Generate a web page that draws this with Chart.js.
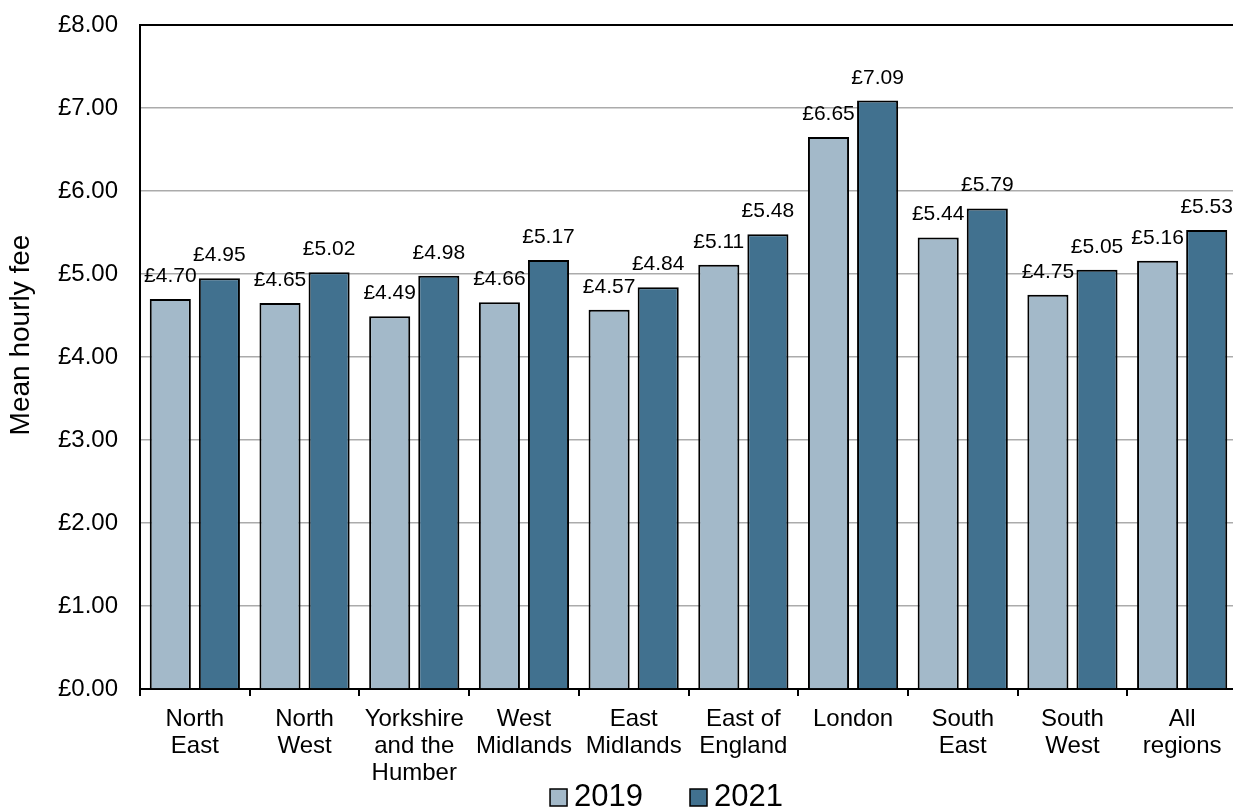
<!DOCTYPE html>
<html>
<head>
<meta charset="utf-8">
<script src="https://cdn.jsdelivr.net/npm/chart.js@4/dist/chart.umd.min.js"></script>
<style>
  html, body { margin: 0; padding: 0; background: #ffffff; overflow: hidden; }
  #wrap { position: relative; width: 1237px; height: 807px; }
</style>
</head>
<body>
<div id="wrap"><canvas id="c"></canvas></div>
<script>
const categories = [
  ['North', 'East'],
  ['North', 'West'],
  ['Yorkshire', 'and the', 'Humber'],
  ['West', 'Midlands'],
  ['East', 'Midlands'],
  ['East of', 'England'],
  ['London'],
  ['South', 'East'],
  ['South', 'West'],
  ['All', 'regions']
];
const seriesNames = ['2019', '2021'];
const values2019 = [4.70, 4.65, 4.49, 4.66, 4.57, 5.11, 6.65, 5.44, 4.75, 5.16];
const values2021 = [4.95, 5.02, 4.98, 5.17, 4.84, 5.48, 7.09, 5.79, 5.05, 5.53];
const yTicks = [0, 1, 2, 3, 4, 5, 6, 7, 8];
const yTitle = 'Mean hourly fee';

const FONT = '"Liberation Sans", Arial, Helvetica, sans-serif';
const COL19 = '#A3B9C9';
const COL21 = '#41718F';

const fmt = v => '£' + v.toFixed(2);

const labelPlugin = {
  id: 'barLabels',
  afterDatasetsDraw(chart) {
    const ctx = chart.ctx;
    ctx.save();
    ctx.font = '21px ' + FONT;
    ctx.fillStyle = '#000';
    ctx.textAlign = 'center';
    ctx.textBaseline = 'alphabetic';
    chart.data.datasets.forEach((ds, di) => {
      const meta = chart.getDatasetMeta(di);
      meta.data.forEach((bar, i) => {
        ctx.fillText(fmt(ds.data[i]), bar.x, bar.y - 17);
      });
    });
    ctx.restore();
  }
};

const borderPlugin = {
  id: 'areaBorder',
  afterDraw(chart) {
    const a = chart.chartArea;
    const ctx = chart.ctx;
    ctx.save();
    ctx.strokeStyle = '#000';
    ctx.lineWidth = 2;
    ctx.beginPath();
    ctx.moveTo(a.left, a.bottom);
    ctx.lineTo(a.left, a.top);
    ctx.lineTo(a.right, a.top);
    ctx.lineTo(a.right, a.bottom);
    ctx.stroke();
    ctx.restore();
  }
};

const yTitlePlugin = {
  id: 'yTitle',
  afterDraw(chart) {
    const a = chart.chartArea;
    const ctx = chart.ctx;
    ctx.save();
    ctx.font = '28px ' + FONT;
    ctx.fillStyle = '#000';
    ctx.textAlign = 'center';
    ctx.textBaseline = 'alphabetic';
    ctx.translate(a.left - 111, (a.top + a.bottom) / 2 - 22);
    ctx.rotate(-Math.PI / 2);
    ctx.fillText(yTitle, 0, 0);
    ctx.restore();
  }
};

const legendPlugin = {
  id: 'customLegend',
  afterDraw(chart) {
    const ctx = chart.ctx;
    const a = chart.chartArea;
    ctx.save();
    ctx.font = '31px ' + FONT;
    ctx.textBaseline = 'alphabetic';
    ctx.textAlign = 'left';
    const box = 17, gapBox = 7, gapItem = 47;
    const items = chart.data.datasets.map(ds => ({ text: ds.label, color: ds.backgroundColor }));
    let total = 0;
    items.forEach((it, i) => {
      it.w = ctx.measureText(it.text).width;
      total += box + gapBox + it.w + (i ? gapItem : 0);
    });
    const cx = (a.left + a.right) / 2 - 22;
    let x = cx - total / 2;
    const baseY = chart.height - 1;
    items.forEach(it => {
      ctx.fillStyle = it.color;
      ctx.fillRect(x, baseY - box, box, box);
      ctx.strokeStyle = '#000';
      ctx.lineWidth = 1.5;
      ctx.strokeRect(x, baseY - box, box, box);
      ctx.fillStyle = '#000';
      ctx.fillText(it.text, x + box + gapBox, baseY);
      x += box + gapBox + it.w + gapItem;
    });
    ctx.restore();
  }
};

new Chart(document.getElementById('c'), {
  type: 'bar',
  data: {
    labels: categories,
    datasets: [
      { label: seriesNames[0], data: values2019, backgroundColor: COL19, borderColor: '#000', borderWidth: 2, borderSkipped: 'bottom' },
      { label: seriesNames[1], data: values2021, backgroundColor: COL21, borderColor: '#000', borderWidth: 2, borderSkipped: 'bottom' }
    ]
  },
  options: {
    responsive: true,
    maintainAspectRatio: false,
    animation: false,
    layout: { padding: { top: 25, left: 0, right: 0, bottom: 0 } },
    datasets: { bar: { categoryPercentage: 0.895, barPercentage: 0.837 } },
    plugins: {
      legend: { display: false },
      tooltip: { enabled: false }
    },
    scales: {
      x: {
        offset: true,
        grid: { display: true, offset: true, drawOnChartArea: false, drawTicks: true, tickLength: 7, color: '#000', lineWidth: 2 },
        border: { display: true, color: '#000', width: 2 },
        ticks: { color: '#000', font: { family: FONT, size: 24, lineHeight: 1.13 }, padding: 10, maxRotation: 0, autoSkip: false },
        afterFit(scale) { scale.height = 118; scale.paddingLeft = 0; scale.paddingRight = 0; }
      },
      y: {
        min: 0,
        max: 8,
        afterBuildTicks(scale) { scale.ticks = yTicks.map(v => ({ value: v })); },
        grid: {
          color: ctx => (ctx.tick && (ctx.tick.value === 0 || ctx.tick.value === 8)) ? 'rgba(0,0,0,0)' : '#ABABAB',
          lineWidth: 1.5,
          drawTicks: false
        },
        border: { display: true, color: '#000', width: 2 },
        ticks: { color: '#000', font: { family: FONT, size: 24 }, padding: 22, callback: v => fmt(v) },
        title: { display: false, text: yTitle },
        afterFit(scale) { scale.width = 140; scale.paddingTop = 0; scale.paddingBottom = 0; }
      }
    }
  },
  plugins: [labelPlugin, borderPlugin, yTitlePlugin, legendPlugin]
});
</script>
</body>
</html>
